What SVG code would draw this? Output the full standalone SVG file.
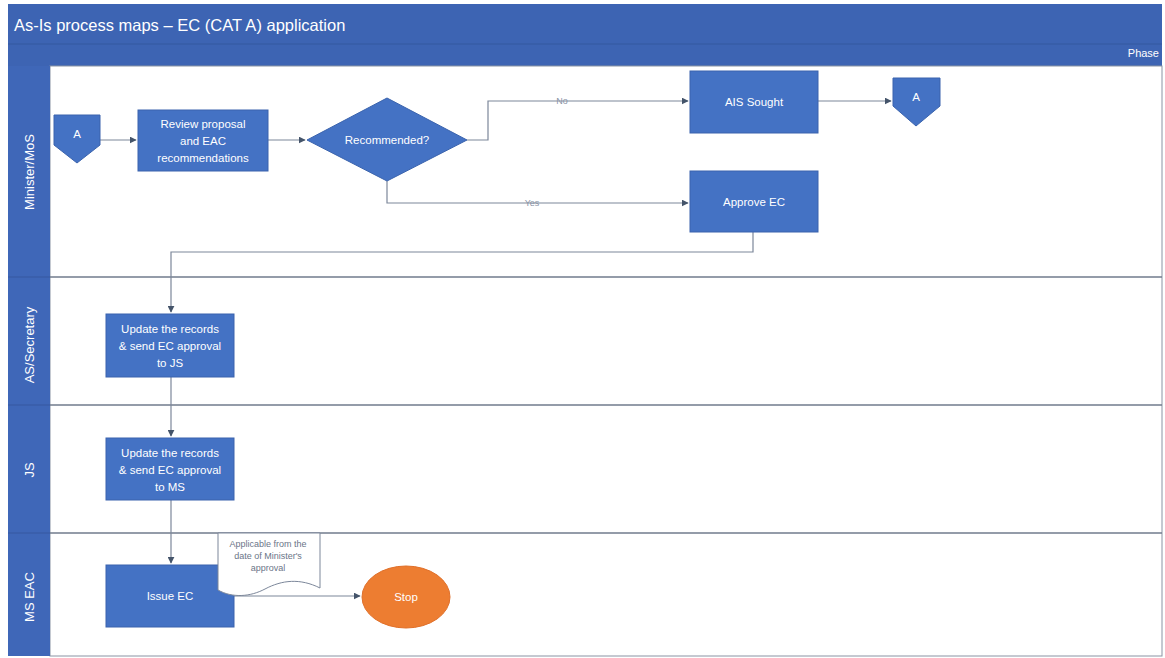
<svg xmlns="http://www.w3.org/2000/svg" width="1165" height="658" viewBox="0 0 1165 658">
  <defs>
    <marker id="arrow" viewBox="0 0 10 10" refX="9" refY="5" markerWidth="7" markerHeight="7" orient="auto" markerUnits="userSpaceOnUse">
      <path d="M0,0 L10,5 L0,10 Z" fill="#44546a"/>
    </marker>
    <style>
      .band { fill: #3d64b3; }
      .lanehead { fill: #3f67b8; }
      .lane-line { stroke: #707b8c; stroke-width: 1.5; fill: none; }
      .proc { fill: #4472c4; stroke: #3a63ad; stroke-width: 1; }
      .conn { stroke: #7c879a; stroke-width: 1.2; fill: none; }
      .t { font-family: "Liberation Sans", Arial, sans-serif; fill: #ffffff; text-anchor: middle; }
      .box-t { font-size: 11.5px; }
      .lane-t { font-size: 13px; }
      .lbl { font-family: "Liberation Sans", Arial, sans-serif; font-size: 9px; fill: #8a94a6; text-anchor: middle; }
      .note-t { font-family: "Liberation Sans", Arial, sans-serif; font-size: 9px; fill: #6b7588; text-anchor: middle; }
    </style>
  </defs>

  <rect x="0" y="0" width="1165" height="658" fill="#ffffff"/>

  <!-- header band with title and phase row -->
  <g id="header">
    <rect class="band" x="8" y="4" width="1154" height="62"/>
    <line x1="8" y1="44" x2="1162" y2="44" stroke="#34599f" stroke-width="1"/>
    <text x="14" y="31" font-family="Liberation Sans, Arial, sans-serif" font-size="16.5" fill="#ffffff">As-Is process maps – EC (CAT A) application</text>
    <text x="1159" y="57" font-family="Liberation Sans, Arial, sans-serif" font-size="11" fill="#ffffff" text-anchor="end">Phase</text>
  </g>

  <!-- swimlanes -->
  <g id="lanes">
    <rect x="50" y="66" width="1112" height="590" fill="#ffffff" stroke="#8a93a3" stroke-width="1"/>
    <rect class="lanehead" x="8" y="66" width="42" height="590"/>
    <line class="lane-line" x1="50" y1="277" x2="1162" y2="277"/>
    <line class="lane-line" x1="50" y1="405" x2="1162" y2="405"/>
    <line class="lane-line" x1="50" y1="533" x2="1162" y2="533"/>
    <line x1="8" y1="277" x2="50" y2="277" stroke="#3759a0" stroke-width="1"/>
    <line x1="8" y1="405" x2="50" y2="405" stroke="#3759a0" stroke-width="1"/>
    <line x1="8" y1="533" x2="50" y2="533" stroke="#3759a0" stroke-width="1"/>
    <text class="t lane-t" transform="translate(34,172) rotate(-90)">Minister/MoS</text>
    <text class="t lane-t" transform="translate(34,345) rotate(-90)">AS/Secretary</text>
    <text class="t lane-t" transform="translate(34,470) rotate(-90)">JS</text>
    <text class="t lane-t" transform="translate(34,597) rotate(-90)">MS EAC</text>
  </g>

  <!-- connectors -->
  <g id="connectors">
    <path class="conn" d="M100,140 H136" marker-end="url(#arrow)"/>
    <path class="conn" d="M268,140 H305" marker-end="url(#arrow)"/>
    <path class="conn" d="M467,140 H488 V101 H688" marker-end="url(#arrow)"/>
    <text class="lbl" x="562" y="104">No</text>
    <path class="conn" d="M387,181 V203 H688" marker-end="url(#arrow)"/>
    <text class="lbl" x="532" y="206">Yes</text>
    <path class="conn" d="M818,101 H891" marker-end="url(#arrow)"/>
    <path class="conn" d="M753,232 V252 H171 V312" marker-end="url(#arrow)"/>
    <path class="conn" d="M171,377 V436" marker-end="url(#arrow)"/>
    <path class="conn" d="M171,500 V563" marker-end="url(#arrow)"/>
    <path class="conn" d="M234,596 H360" marker-end="url(#arrow)"/>
  </g>

  <!-- off-page reference A (start) -->
  <g id="offpage-start">
    <path class="proc" d="M54,115 H100 V145 L77,163 L54,145 Z"/>
    <text class="t box-t" x="77" y="138">A</text>
  </g>

  <g id="review-proposal">
    <rect class="proc" x="138" y="110" width="130" height="61"/>
    <text class="t box-t" x="203" y="128">Review proposal</text>
    <text class="t box-t" x="203" y="145">and EAC</text>
    <text class="t box-t" x="203" y="162">recommendations</text>
  </g>

  <g id="recommended">
    <path class="proc" d="M387,98 L467,140 L387,181 L307,140 Z"/>
    <text class="t box-t" x="387" y="144">Recommended?</text>
  </g>

  <g id="ais-sought">
    <rect class="proc" x="690" y="71" width="128" height="62"/>
    <text class="t box-t" x="754" y="106">AIS Sought</text>
  </g>

  <!-- off-page reference A (end) -->
  <g id="offpage-end">
    <path class="proc" d="M893,78 H940 V106 L916,126 L893,106 Z"/>
    <text class="t box-t" x="916" y="101">A</text>
  </g>

  <g id="approve-ec">
    <rect class="proc" x="690" y="171" width="128" height="61"/>
    <text class="t box-t" x="754" y="206">Approve EC</text>
  </g>

  <g id="update-records-js">
    <rect class="proc" x="106" y="314" width="128" height="63"/>
    <text class="t box-t" x="170" y="333">Update the records</text>
    <text class="t box-t" x="170" y="350">&amp; send EC approval</text>
    <text class="t box-t" x="170" y="367">to JS</text>
  </g>

  <g id="update-records-ms">
    <rect class="proc" x="106" y="438" width="128" height="62"/>
    <text class="t box-t" x="170" y="457">Update the records</text>
    <text class="t box-t" x="170" y="474">&amp; send EC approval</text>
    <text class="t box-t" x="170" y="491">to MS</text>
  </g>

  <g id="issue-ec">
    <rect class="proc" x="106" y="565" width="128" height="62"/>
    <text class="t box-t" x="170" y="600">Issue EC</text>
  </g>

  <!-- annotation document shape overlapping the Issue EC box -->
  <g id="note">
    <path d="M218,533 H320 V588 C300,578 282,580 265,589 C250,597 232,598 218,590 Z" fill="#ffffff" stroke="#7c879a" stroke-width="1"/>
    <text class="note-t" x="268" y="547">Applicable from the</text>
    <text class="note-t" x="268" y="559">date of Minister's</text>
    <text class="note-t" x="268" y="571">approval</text>
  </g>

  <g id="stop">
    <ellipse cx="406" cy="597" rx="44" ry="31" fill="#ed7d31" stroke="#e0702a" stroke-width="1"/>
    <text class="t box-t" x="406" y="601">Stop</text>
  </g>
</svg>
